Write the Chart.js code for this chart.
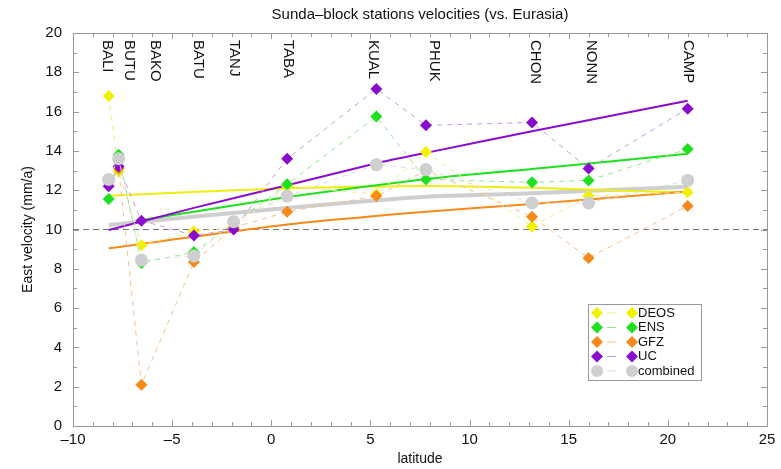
<!DOCTYPE html>
<html>
<head>
<meta charset="utf-8">
<script src="https://cdn.jsdelivr.net/npm/chart.js@4.4.1/dist/chart.umd.min.js"></script>
<style>
  body { margin: 0; background: #fff; }
  canvas { display: block; }
</style>
</head>
<body>
<canvas id="velChart" width="781" height="469"></canvas>
<script>
// --- data ---
const stations = ['BALI', 'BUTU', 'BAKO', 'BATU', 'TANJ', 'TABA', 'KUAL', 'PHUK', 'CHON', 'NONN', 'CAMP'];
const latitude = [-8.2, -7.7, -6.55, -3.9, -1.9, 0.8, 5.3, 7.8, 13.15, 16.0, 21.0];

const deos     = [16.8, 12.95, 9.2, 9.9, 10.1, 12.2, 11.8, 13.95, 10.15, 11.7, 11.9];
const ens      = [11.55, 13.8, 8.3, 8.85, 10.3, 12.3, 15.75, 12.55, 12.4, 12.5, 14.1];
const gfz      = [12.4, 13.1, 2.1, 8.35, 10.1, 10.9, 11.7, 13.0, 10.65, 8.55, 11.2];
const uc       = [12.2, 13.2, 10.45, 9.7, 10.0, 13.6, 17.15, 15.3, 15.45, 13.1, 16.15];
const combined = [12.55, 13.6, 8.45, 8.65, 10.4, 11.7, 13.3, 13.05, 11.35, 11.35, 12.5];

// model curves (solid lines), sampled where read
const fitLat    = [-8.2, 0.8, 7.8, 13.15, 21.0];
const deosFit   = [11.72, 12.1, 12.22, 12.12, 11.88];
const gfzFit    = [9.04, 10.25, 10.9, 11.3, 11.94];
const combFit   = [10.23, 11.1, 11.67, 11.84, 12.18];
const ensFitLat = [-6.55, 0.8, 7.8, 13.15, 21.0];
const ensFit    = [10.48, 11.65, 12.57, 13.08, 13.85];
const ucFitLat  = [-8.2, -3.9, 0.8, 5.3, 7.8, 13.15, 21.0];
const ucFit     = [9.97, 11.1, 12.25, 13.37, 13.9, 15.0, 16.55];

const refLat = [-10, 25];
const refVel = [10, 10];

const FONT = '"Liberation Sans", Arial, Helvetica, sans-serif';

// station names are nudged sideways (px) so they don't overlap
const labelNudge = [-3, 10, 13, 3, 0, 0, -4, 7, 2, 2, -1];

const COL = {
    deos: '#f2f200', ens: '#1fe01f', gfz: '#f58a1a', uc: '#8a0ccc', comb: '#cfcfcf'
};
const DASH_COL = {
    deos: '#eeee80', ens: '#8ee88e', gfz: '#f4c08a', uc: '#c69ae0', comb: '#dddddd'
};

const pts = (xs, ys) => xs.map((x, i) => ({ x: x, y: ys[i] }));

function stationSet(label, key, values, style) {
    return {
        label: label,
        data: pts(latitude, values),
        showLine: true,
        borderColor: DASH_COL[key],
        borderWidth: 1,
        borderDash: [5, 5],
        pointStyle: style,
        pointRadius: style === 'circle' ? 6.5 : 6,
        pointBackgroundColor: COL[key],
        pointBorderColor: COL[key],
        pointBorderWidth: 0
    };
}

function fitSet(key, xs, ys, width) {
    return {
        label: key + ' fit',
        data: pts(xs, ys),
        showLine: true,
        borderColor: key === 'deos' ? '#eeee10' : COL[key],
        borderWidth: width,
        pointRadius: 0,
        tension: 0.2
    };
}

// drawn top-first: index 0 lies on top
const datasets = [
    stationSet('combined', 'comb', combined, 'circle'),
    stationSet('UC', 'uc', uc, 'rectRot'),
    stationSet('GFZ', 'gfz', gfz, 'rectRot'),
    stationSet('ENS', 'ens', ens, 'rectRot'),
    stationSet('DEOS', 'deos', deos, 'rectRot'),
    fitSet('uc', ucFitLat, ucFit, 2),
    fitSet('ens', ensFitLat, ensFit, 2),
    fitSet('gfz', fitLat, gfzFit, 2),
    fitSet('deos', fitLat, deosFit, 2),
    fitSet('comb', fitLat, combFit, 4),
    {
        label: 'ref',
        data: pts(refLat, refVel),
        showLine: true,
        borderColor: '#777',
        borderWidth: 1,
        borderDash: [6, 4],
        pointRadius: 0
    }
];

const legendItems = [
    { label: 'DEOS', key: 'deos', style: 'diamond' },
    { label: 'ENS', key: 'ens', style: 'diamond' },
    { label: 'GFZ', key: 'gfz', style: 'diamond' },
    { label: 'UC', key: 'uc', style: 'diamond' },
    { label: 'combined', key: 'comb', style: 'circle' }
];

function marker(ctx, style, x, y, color) {
    ctx.fillStyle = color;
    ctx.beginPath();
    if (style === 'circle') {
        ctx.arc(x, y, 6, 0, Math.PI * 2);
    } else {
        ctx.moveTo(x, y - 6); ctx.lineTo(x + 6, y); ctx.lineTo(x, y + 6); ctx.lineTo(x - 6, y);
        ctx.closePath();
    }
    ctx.fill();
}

const framePlugin = {
    id: 'frame',
    beforeDatasetsDraw: (chart) => {
        const { ctx, chartArea: a, scales } = chart;
        ctx.save();
        ctx.strokeStyle = '#999';
        ctx.lineWidth = 1;
        ctx.strokeRect(a.left + 0.5, a.top + 0.5, a.right - a.left, a.bottom - a.top);
        ctx.beginPath();
        for (let v = -10; v <= 25; v += 1) {
            const px = Math.round(scales.x.getPixelForValue(v)) + 0.5;
            const len = v % 5 === 0 ? 6 : 4;
            ctx.moveTo(px, a.bottom); ctx.lineTo(px, a.bottom - len);
            ctx.moveTo(px, a.top); ctx.lineTo(px, a.top + len);
        }
        for (let v = 0; v <= 20; v += 1) {
            const py = Math.round(scales.y.getPixelForValue(v)) + 0.5;
            const len = v % 2 === 0 ? 6 : 4;
            ctx.moveTo(a.left, py); ctx.lineTo(a.left + len, py);
            ctx.moveTo(a.right, py); ctx.lineTo(a.right - len, py);
        }
        ctx.stroke();
        ctx.restore();
    },
    afterDraw: (chart) => {
        const { ctx, chartArea: a, scales } = chart;
        ctx.save();
        ctx.fillStyle = '#111';
        ctx.textAlign = 'center';
        ctx.textBaseline = 'middle';

        // title and axis titles
        ctx.font = '15px ' + FONT;
        ctx.fillText('Sunda\u2013block stations velocities (vs. Eurasia)', (a.left + a.right) / 2, 15);
        ctx.font = '14px ' + FONT;
        ctx.fillText('latitude', (a.left + a.right) / 2, 459);
        ctx.save();
        ctx.translate(28, (a.top + a.bottom) / 2);
        ctx.rotate(-Math.PI / 2);
        ctx.fillText('East velocity (mm/a)', 0, 0);
        ctx.restore();

        // station names, rotated
        ctx.font = '15px ' + FONT;
        ctx.textAlign = 'left';
        stations.forEach((name, i) => {
            const px = scales.x.getPixelForValue(latitude[i]) + labelNudge[i] + 1;
            ctx.save();
            ctx.translate(px, a.top + 7);
            ctx.rotate(Math.PI / 2);
            ctx.fillText(name, 0, 0);
            ctx.restore();
        });

        // legend box
        const bx = a.right - 179, by = a.top + 271, bw = 113, bh = 76;
        ctx.fillStyle = '#fff';
        ctx.fillRect(bx, by, bw, bh);
        ctx.strokeStyle = '#999';
        ctx.strokeRect(bx + 0.5, by + 0.5, bw, bh);
        ctx.font = '13px ' + FONT;
        legendItems.forEach((it, i) => {
            const y = by + 9 + i * 14.5;
            ctx.strokeStyle = DASH_COL[it.key];
            ctx.lineWidth = 1;
            ctx.beginPath();
            ctx.moveTo(bx + 19, y); ctx.lineTo(bx + 28, y);
            ctx.stroke();
            marker(ctx, it.style, bx + 9, y, COL[it.key]);
            marker(ctx, it.style, bx + 44, y, COL[it.key]);
            ctx.fillStyle = '#111';
            ctx.fillText(it.label, bx + 50, y);
        });
        ctx.restore();
    }
};

const config = {
    type: 'scatter',
    data: { datasets: datasets },
    options: {
        responsive: false,
        animation: false,
        devicePixelRatio: 1,
        layout: { padding: { top: 33, right: 14, left: 0, bottom: 0 } },
        scales: {
            x: {
                type: 'linear',
                min: -10,
                max: 25,
                grid: { display: false, drawTicks: false },
                border: { display: false },
                ticks: {
                    stepSize: 5,
                    maxRotation: 0,
                    padding: 5,
                    color: '#111',
                    font: { size: 15, family: FONT },
                    callback: (v) => String(v).replace('-', '\u2013')
                },
                afterFit: (s) => { s.height = 43; }
            },
            y: {
                min: 0,
                max: 20,
                grid: { display: false, drawTicks: false },
                border: { display: false },
                ticks: {
                    stepSize: 2,
                    padding: 11,
                    color: '#111',
                    font: { size: 15, family: FONT }
                },
                afterFit: (s) => { s.width = 73; }
            }
        },
        plugins: {
            legend: { display: false },
            tooltip: { enabled: false }
        }
    },
    plugins: [framePlugin]
};

new Chart(document.getElementById('velChart').getContext('2d'), config);
</script>
</body>
</html>
